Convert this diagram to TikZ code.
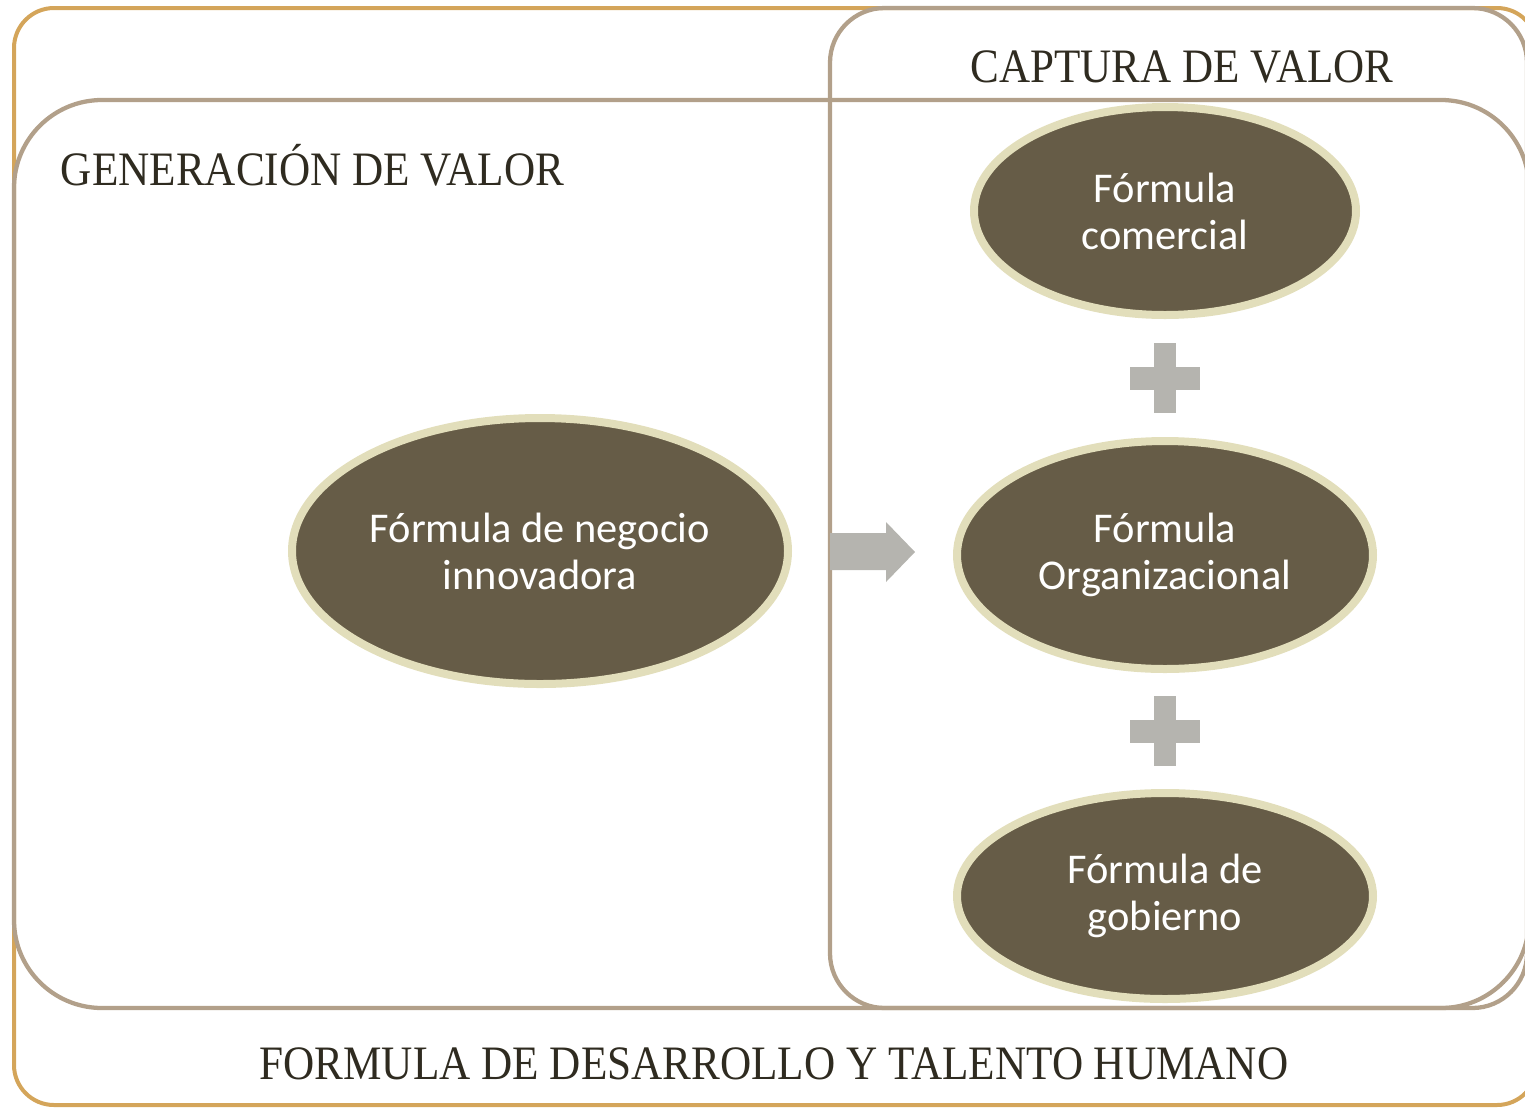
\documentclass[tikz,border=0pt]{standalone}
\usepackage{fontspec}
\setmainfont{Liberation Serif}
\newfontfamily\bodysans{Carlito}
\usetikzlibrary{shapes.geometric}
\definecolor{goldline}{RGB}{212,165,90}
\definecolor{tanline}{RGB}{178,160,138}
\definecolor{ovalfill}{RGB}{102,92,71}
\definecolor{ovalrim}{RGB}{226,222,187}
\definecolor{headtext}{RGB}{47,43,32}
\definecolor{arrowgrey}{RGB}{181,180,175}
\tikzset{
  goldbox/.style={draw=goldline, line width=3pt, rounded corners=30pt},
  tanbox/.style={draw=tanline, line width=3.2pt},
  heading/.style={anchor=base, inner sep=0pt, text=headtext, font=\fontsize{36pt}{40pt}\selectfont},
  oval/.style={ellipse, fill=ovalfill, draw=ovalrim, line width=6pt, inner sep=0pt,
    text=white, align=center, font=\bodysans\fontsize{31.8pt}{35.25pt}\selectfont},
  greyshape/.style={fill=arrowgrey, draw=none}
}
\begin{document}
\begin{tikzpicture}[x=0.75pt, y=-0.75pt]
\useasboundingbox (0,0) rectangle (1525,1108);
\clip (0,0) rectangle (1525,1108);
% outer gold frame
\draw[goldbox] (14,8) rectangle (1537,1105);
% capture box
\draw[tanbox, rounded corners=41pt] (830,8) rectangle (1527,1008);
% generation box
\draw[tanbox, rounded corners=66pt] (14,100) rectangle (1529,1008);
% headings
\node[heading] (cap) at (1182,82) {\scalebox{0.897}[1]{CAPTURA DE VALOR}};
\node[heading] (gen) at (312.5,185) {\scalebox{0.90}[1]{GENERACIÓN DE VALOR}};
\node[heading] (tal) at (774,1079) {\scalebox{0.90}[1]{FORMULA DE DESARROLLO Y TALENTO HUMANO}};
% ovals
\node[oval, minimum width=372pt, minimum height=199.5pt] (neg) at (540,551) {Fórmula de negocio\\innovadora};
\node[oval, minimum width=286.5pt, minimum height=156pt] (com) at (1165,211) {Fórmula\\comercial};
\node[oval, minimum width=312pt, minimum height=171pt] (org) at (1165,555) {Fórmula\\Organizacional};
\node[oval, minimum width=312pt, minimum height=154.5pt] (gob) at (1165,896) {Fórmula de\\gobierno};
% block arrow
\fill[greyshape] (830,533) -- (886,533) -- (886,522) -- (915,552) -- (886,582) -- (886,570) -- (830,570) -- cycle;
% plus signs
\foreach \cy in {378,731} {
  \fill[greyshape] (1154,\cy-35) rectangle (1176,\cy+35);
  \fill[greyshape] (1130,\cy-11) rectangle (1200,\cy+12);
}
\end{tikzpicture}
\end{document}
